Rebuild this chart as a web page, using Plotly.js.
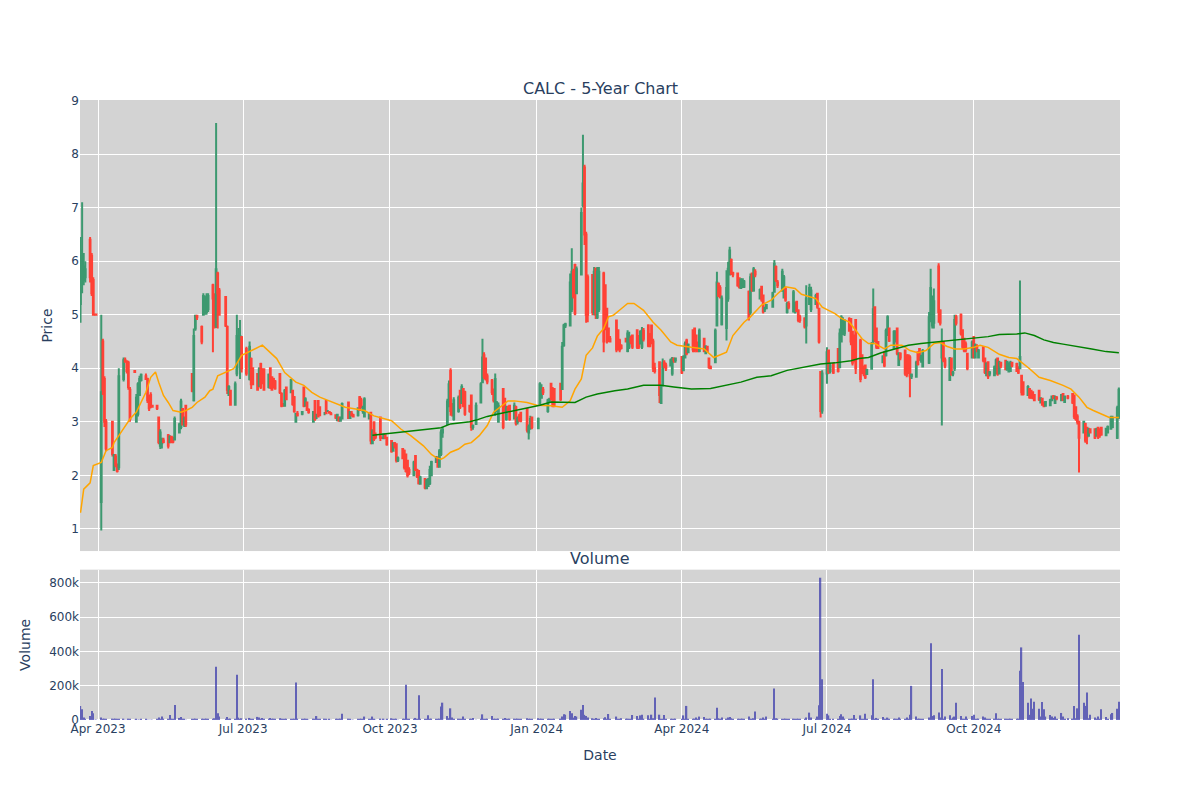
<!DOCTYPE html>
<html>
<head>
<meta charset="utf-8">
<script src="https://cdn.plot.ly/plotly-3.0.1.min.js"></script>
<style>html,body{margin:0;padding:0;background:#fff;}#chart{width:1200px;height:800px;}</style>
</head>
<body>
<div id="chart"></div>
<script>
// ---------- trading calendar ----------
const FIRST_DAY = '2023-03-21';
const LAST_DAY = '2024-12-31';
const MARKET_HOLIDAYS = ['2023-04-07','2023-05-29','2023-06-19','2023-07-04','2023-09-04','2023-11-23','2023-12-25',
  '2024-01-01','2024-01-15','2024-02-19','2024-03-29','2024-05-27','2024-06-19','2024-07-04','2024-09-02','2024-11-28','2024-12-25'];

// ---------- daily prices (one line per month) ----------
const openPrices = [
  5.2,5.6,5.65,5.7,6.4,6.1,5.65,5.0,5.0,
  1.5,4.5,3.8,3.0,3.0,2.1,2.35,2.2,2.15,3.8,4.15,4.12,4.1,3.6,3.95,3.0,3.15,3.5,3.78,
  3.85,3.8,3.45,3.5,3.3,3.3,3.08,2.55,2.6,2.65,2.75,2.62,2.72,2.7,2.67,2.8,2.9,3.24,2.95,3.3,3.89,3.4,
  4.74,4.98,4.77,5.0,5.05,5.05,5.1,5.55,5.36,4.8,5.77,5.45,5.33,4.77,3.5,3.58,3.32,3.9,4.2,4.0,4.58,
  4.36,3.8,4.17,4.0,3.89,3.68,4.08,3.95,3.98,3.65,4.0,3.83,3.8,3.75,3.89,3.52,3.32,3.3,3.64,3.55,
  3.58,3.46,3.0,3.15,3.15,3.64,3.3,3.36,3.22,3.0,3.39,3.1,3.39,3.27,3.15,3.39,3.2,3.18,3.15,3.12,3.03,3.08,3.02,
  3.06,3.36,3.07,3.15,3.12,3.12,3.46,3.4,3.2,3.1,3.06,3.17,2.6,2.99,2.75,3.08,2.7,2.69,2.75,2.7,
  2.64,2.46,2.6,2.58,2.28,2.49,2.46,2.39,2.27,2.1,2.0,2.36,2.1,2.08,1.84,1.93,1.76,1.8,1.85,2.0,2.25,2.33,
  2.16,2.4,2.8,2.96,3.3,3.95,3.3,3.05,3.2,3.58,3.35,3.61,3.55,3.3,3.49,2.9,2.96,3.36,3.74,4.24,4.18,
  3.85,3.77,3.6,3.15,3.2,3.0,3.61,3.43,3.05,3.25,3.3,3.06,3.27,3.0,3.1,3.17,3.24,2.8,2.9,3.08,
  2.88,3.33,3.45,3.6,3.2,3.4,3.71,3.6,3.61,3.71,3.61,4.43,4.8,4.8,5.1,5.8,5.93,5.4,5.75,7.05,7.75,
  6.5,5.7,5.74,5.05,5.86,4.95,5.1,5.77,5.55,5.11,4.74,4.55,4.89,4.71,4.52,4.42,4.55,4.32,4.4,4.55,
  4.61,4.71,4.6,4.46,4.4,4.7,4.8,4.64,4.8,4.5,4.0,4.11,3.35,3.68,4.1,4.05,4.05,3.9,4.18,4.15,
  4.21,3.96,4.2,4.52,4.3,4.71,4.74,4.61,4.45,4.32,4.55,4.28,4.4,4.18,4.02,4.11,4.8,5.58,5.5,4.82,4.75,5.3,
  5.75,6.02,5.78,5.77,5.68,5.5,5.52,5.52,5.43,5.05,5.77,5.45,5.8,5.3,5.52,5.36,5.1,5.12,5.15,5.43,5.89,5.6,
  5.45,5.32,5.49,5.05,5.2,5.06,5.05,5.24,5.08,4.95,4.93,4.8,5.2,5.1,5.2,5.39,5.11,3.93,3.21,
  3.9,4.33,3.95,4.08,4.36,4.02,4.5,4.7,4.65,4.92,4.92,4.68,4.61,4.9,4.52,4.24,4.0,4.05,3.89,3.99,4.5,5.14,
  4.74,4.49,4.11,4.3,4.24,4.62,4.74,4.38,4.5,4.74,4.06,4.27,4.33,4.24,4.24,4.2,3.85,3.84,4.3,4.36,4.15,4.03,
  4.1,4.9,4.8,4.85,5.9,5.08,4.2,4.49,4.15,3.78,4.18,3.9,4.0,4.95,5.0,4.71,4.55,4.45,4.27,4.2,
  4.58,4.2,4.4,4.2,4.39,4.18,3.87,4.11,3.9,3.87,3.9,4.18,3.9,4.1,4.14,3.97,3.94,3.95,4.1,4.08,4.02,4.0,3.86,
  3.74,3.5,3.61,3.58,3.55,3.5,3.58,3.36,3.43,3.35,3.3,3.31,3.4,3.47,3.35,3.45,3.4,3.52,3.37,3.47,
  3.52,3.49,3.27,3.1,3.0,2.8,2.96,2.89,2.74,2.86,2.86,2.74,2.89,2.85,2.89,2.75,2.8,2.87,2.9,2.7,3.1
];
const highPrices = [
  6.45,7.1,6.15,6.0,6.45,6.15,5.7,5.02,5.02,
  5.0,4.55,3.85,3.05,3.0,2.4,2.4,2.22,4.0,4.2,4.2,4.15,4.14,3.65,3.96,3.52,3.74,3.86,3.9,
  3.9,3.82,3.5,3.55,3.3,3.32,3.1,2.86,2.7,2.7,2.77,2.75,2.74,2.72,3.1,2.98,3.43,3.25,3.1,3.3,3.9,4.74,
  5.0,5.0,4.8,5.4,5.36,5.4,5.4,5.58,5.4,8.58,5.8,5.5,5.35,4.8,3.68,3.6,3.75,5.0,4.75,4.9,4.6,
  4.4,4.5,4.2,4.02,3.9,4.02,4.1,4.0,3.99,3.9,4.02,3.85,3.82,3.78,3.9,3.55,3.35,3.61,3.65,3.8,
  3.6,3.48,3.17,3.2,3.2,3.66,3.46,3.38,3.25,3.2,3.4,3.15,3.4,3.28,3.18,3.4,3.22,3.2,3.18,3.14,3.15,3.1,3.1,
  3.36,3.38,3.2,3.2,3.15,3.27,3.48,3.45,3.3,3.46,3.17,3.18,2.86,3.0,2.8,3.1,2.72,2.77,2.76,2.72,
  2.66,2.61,2.62,2.6,2.35,2.5,2.48,2.4,2.28,2.15,2.27,2.38,2.12,2.09,1.99,1.95,1.93,1.95,2.18,2.27,2.36,2.35,
  2.49,2.86,2.9,3.43,3.77,4.0,3.35,3.46,3.49,3.6,3.7,3.62,3.58,3.32,3.5,2.95,3.36,3.74,4.55,4.3,4.2,
  3.9,3.8,3.62,3.9,3.39,3.36,3.62,3.45,3.3,3.3,3.3,3.36,3.3,3.1,3.15,3.18,3.25,2.95,3.11,3.1,
  3.08,3.74,3.7,3.65,3.43,3.45,3.72,3.65,3.62,3.72,4.49,4.83,4.85,5.77,6.24,5.86,5.95,5.9,7.0,8.36,7.8,
  6.55,5.75,5.76,5.89,5.88,5.89,5.89,5.8,5.56,5.12,4.75,4.6,4.9,4.72,4.55,4.45,4.56,4.71,4.68,4.6,
  4.62,4.72,4.62,4.71,4.77,4.75,4.82,4.65,4.8,4.55,4.1,4.12,3.68,4.18,4.15,4.1,4.18,4.21,4.2,4.2,
  4.22,4.24,4.5,4.55,4.46,4.72,4.75,4.62,4.5,4.74,4.56,4.43,4.42,4.2,4.05,4.74,5.8,5.6,5.55,5.36,5.83,5.99,
  6.27,6.05,5.8,5.78,5.7,5.68,5.68,5.65,5.45,5.77,5.78,5.89,5.85,5.49,5.53,5.37,5.15,5.2,5.43,6.02,5.92,5.65,
  5.86,5.74,5.5,5.24,5.25,5.46,5.24,5.25,5.1,5.0,4.95,5.55,5.58,5.52,5.39,5.4,5.12,3.95,3.96,
  4.39,4.35,4.1,4.1,4.38,4.74,4.99,4.95,4.92,4.95,4.93,4.7,4.62,4.92,4.55,4.25,4.05,4.06,3.99,4.49,5.49,5.15,
  4.76,4.5,4.24,4.32,4.74,4.99,4.76,4.71,4.71,4.75,4.3,4.3,4.35,4.25,4.25,4.24,3.9,4.14,4.31,4.37,4.25,4.36,
  5.05,5.86,5.36,5.49,5.96,5.1,4.74,4.5,4.2,4.21,4.2,3.95,5.0,5.0,5.02,4.72,4.56,4.5,4.28,4.52,
  4.6,4.46,4.45,4.36,4.4,4.2,4.11,4.12,3.95,4.05,4.18,4.2,4.14,4.12,4.15,4.14,4.11,4.14,4.12,4.1,4.03,5.64,3.88,
  3.75,3.68,3.62,3.6,3.56,3.52,3.6,3.46,3.44,3.38,3.39,3.43,3.49,3.5,3.49,3.48,3.52,3.53,3.49,3.5,
  3.53,3.5,3.28,3.14,3.02,3.02,2.98,2.9,2.89,2.88,2.87,2.89,2.9,2.88,2.9,2.89,2.93,3.11,3.11,3.3,3.64
];
const lowPrices = [
  4.85,5.4,5.55,5.6,5.6,5.35,4.98,4.98,4.98,
  0.97,3.5,2.9,2.45,2.35,2.08,2.15,2.05,2.1,3.75,4.1,3.9,3.6,3.0,3.92,3.0,3.1,3.48,3.75,
  3.78,3.35,3.2,3.25,3.28,3.22,2.58,2.49,2.5,2.6,2.5,2.6,2.6,2.6,2.65,2.78,2.86,2.93,2.9,2.9,3.55,3.38,
  4.7,4.9,4.45,4.98,5.0,5.0,5.05,4.3,4.74,4.75,4.74,4.99,4.77,3.52,3.48,3.3,3.3,3.85,4.15,3.8,3.92,
  3.86,3.77,3.61,3.68,3.58,3.65,3.61,3.7,3.58,3.62,3.61,3.58,3.62,3.6,3.52,3.27,3.28,3.29,3.4,3.54,
  3.3,3.17,2.99,3.1,3.12,3.27,3.28,3.2,3.15,2.99,3.02,3.05,3.08,3.11,3.12,3.14,3.18,3.15,3.12,3.05,3.02,3.0,3.0,
  3.05,3.05,3.05,3.1,3.08,3.1,3.2,3.25,3.15,3.08,3.05,2.58,2.58,2.64,2.68,2.64,2.68,2.68,2.68,2.55,
  2.42,2.45,2.5,2.24,2.25,2.3,2.11,2.05,1.96,2.0,1.99,2.08,1.95,1.83,1.83,1.74,1.74,1.78,1.82,1.99,2.24,2.14,
  2.14,2.36,2.7,2.95,3.27,3.11,3.1,3.02,3.17,3.24,3.33,3.27,3.11,3.17,2.83,2.85,2.95,3.35,3.72,3.8,3.77,
  3.7,3.5,3.36,3.11,3.18,2.99,2.86,3.17,3.02,3.2,3.02,3.05,2.93,2.95,3.0,2.99,2.8,2.67,2.85,2.86,
  2.86,3.32,3.43,3.5,3.17,3.35,3.4,3.27,3.27,3.39,3.6,4.4,4.75,4.78,5.05,5.3,4.99,5.38,5.74,7.0,6.3,
  4.85,4.86,4.99,4.99,4.92,4.92,5.05,4.3,4.71,4.46,4.49,4.48,4.3,4.33,4.3,4.35,4.49,4.3,4.36,4.45,
  4.36,4.36,4.36,4.45,4.36,4.5,4.39,4.39,4.45,3.93,3.9,3.35,3.33,3.66,4.0,3.95,4.04,3.86,4.1,4.1,
  3.89,3.95,4.18,4.24,4.28,4.3,4.3,4.3,4.3,4.3,4.3,4.27,4.3,3.99,3.98,4.1,4.78,5.33,5.3,4.8,4.52,5.24,
  5.74,5.74,5.7,5.52,5.49,5.49,5.5,5.5,4.89,5.0,5.43,5.43,5.7,5.29,5.24,5.02,5.05,5.1,5.14,5.42,5.61,5.5,
  5.43,5.3,5.24,5.02,5.1,5.05,5.02,5.05,4.86,4.85,4.74,4.46,5.18,5.05,5.18,5.11,4.46,3.08,3.15,
  3.71,3.89,3.9,3.89,3.92,4.0,4.49,4.62,4.6,4.68,4.43,4.05,4.11,3.89,3.74,3.89,3.85,3.8,3.88,3.97,4.45,4.49,
  4.36,4.36,4.1,4.02,4.22,4.61,4.49,4.36,4.49,4.24,4.05,4.15,3.86,3.83,3.89,3.46,3.8,3.83,4.05,4.14,4.1,4.02,
  4.08,4.86,4.74,4.74,4.85,4.8,2.93,4.11,4.0,3.77,3.86,3.85,3.95,4.8,4.61,4.36,4.3,4.3,3.96,4.18,
  4.18,4.18,4.3,4.18,4.11,3.89,3.86,3.8,3.85,3.86,3.89,3.86,3.89,4.0,3.96,3.96,3.93,3.93,4.02,3.93,3.89,3.98,3.49,
  3.49,3.49,3.43,3.43,3.42,3.39,3.39,3.35,3.3,3.27,3.29,3.3,3.39,3.42,3.33,3.4,3.39,3.39,3.36,3.42,
  3.33,3.05,3.02,2.95,2.05,2.78,2.61,2.58,2.73,2.78,2.68,2.73,2.68,2.7,2.74,2.74,2.79,2.86,2.88,2.68,3.05
];
const closePrices = [
  6.2,6.1,5.9,5.85,5.7,5.4,5.0,5.0,5.0,
  3.55,3.6,3.0,2.5,2.4,2.38,2.2,2.08,3.85,4.15,4.12,3.95,3.65,3.05,3.93,3.45,3.7,3.8,3.88,
  3.8,3.4,3.25,3.3,3.28,3.25,2.62,2.8,2.65,2.62,2.55,2.72,2.62,2.63,3.05,2.95,3.38,2.95,3.05,2.95,3.58,4.6,
  4.98,4.95,4.5,5.35,5.3,5.3,5.35,5.3,4.8,5.85,5.4,5.0,4.8,3.6,3.65,3.32,3.7,4.6,4.6,4.6,4.0,
  3.9,4.4,3.7,3.7,3.6,3.98,3.65,3.75,3.6,3.88,3.65,3.6,3.65,3.62,3.55,3.3,3.3,3.58,3.42,3.78,
  3.33,3.2,3.15,3.12,3.18,3.3,3.42,3.22,3.18,3.18,3.05,3.1,3.1,3.12,3.15,3.16,3.2,3.17,3.14,3.08,3.13,3.02,3.05,
  3.33,3.07,3.18,3.12,3.1,3.25,3.22,3.27,3.25,3.42,3.15,2.65,2.82,2.68,2.72,2.7,2.7,2.76,2.7,2.58,
  2.45,2.6,2.55,2.28,2.32,2.32,2.15,2.08,2.0,2.05,2.24,2.1,1.98,1.85,1.96,1.77,1.9,1.92,2.1,2.25,2.34,2.16,
  2.45,2.8,2.85,3.38,3.7,3.2,3.15,3.4,3.45,3.28,3.65,3.3,3.15,3.2,2.9,2.92,3.3,3.7,4.2,3.85,3.8,
  3.75,3.55,3.4,3.8,3.35,3.3,2.9,3.2,3.25,3.22,3.05,3.3,2.97,3.05,3.05,3.02,2.85,2.9,3.05,2.9,
  3.05,3.7,3.6,3.55,3.4,3.42,3.45,3.3,3.32,3.42,4.4,4.8,4.82,5.6,5.8,5.35,5.02,5.85,6.9,7.45,6.5,
  5.0,5.0,5.05,5.8,5.0,5.8,5.8,4.5,4.75,4.5,4.52,4.5,4.35,4.38,4.35,4.38,4.5,4.65,4.6,4.5,
  4.4,4.4,4.4,4.68,4.7,4.55,4.42,4.42,4.5,4.0,3.95,3.5,3.65,4.1,4.05,4.0,4.15,4.18,4.15,4.18,
  3.92,4.2,4.45,4.28,4.44,4.35,4.35,4.35,4.35,4.7,4.32,4.4,4.32,4.02,4.0,4.7,5.6,5.36,5.33,5.3,5.5,5.86,
  6.2,5.78,5.75,5.55,5.52,5.65,5.66,5.62,4.95,5.7,5.46,5.85,5.75,5.46,5.28,5.06,5.12,5.18,5.4,5.95,5.65,5.55,
  5.8,5.7,5.28,5.2,5.15,5.42,5.2,5.07,4.9,4.9,4.78,5.3,5.5,5.45,5.35,5.15,4.5,3.2,3.9,
  4.3,3.93,4.05,3.92,3.95,4.65,4.95,4.9,4.88,4.7,4.5,4.1,4.15,4.0,3.8,3.92,3.9,3.83,3.97,4.45,5.1,4.55,
  4.4,4.38,4.22,4.05,4.7,4.95,4.52,4.68,4.68,4.28,4.27,4.2,3.9,3.88,3.93,3.85,3.88,4.1,4.08,4.17,4.2,4.32,
  4.95,5.5,5.3,5.25,5.05,4.85,4.45,4.15,4.05,4.18,3.9,3.92,4.9,4.85,4.65,4.4,4.33,4.35,4.0,4.48,
  4.22,4.43,4.35,4.33,4.15,3.93,4.08,3.85,3.92,4.02,4.15,3.9,4.1,4.05,3.98,4.12,4.08,4.1,4.05,3.95,3.92,4.21,3.55,
  3.52,3.65,3.46,3.45,3.45,3.4,3.42,3.44,3.32,3.29,3.37,3.4,3.47,3.45,3.46,3.44,3.5,3.41,3.47,3.45,
  3.36,3.1,3.05,3.0,2.7,3.0,2.65,2.72,2.86,2.8,2.7,2.86,2.72,2.75,2.76,2.87,2.9,3.08,3.05,3.25,3.6
];
// daily volume, thousands of shares
const volumeK = [
  82,62,14,5,23,53,39,2,2,
  14,6,5,4,8,5,3,3,8,4,2,2,3,3,1,3,2,2,3,
  3,2,2,2,1,3,14,5,20,3,4,29,3,3,88,12,18,4,3,2,4,5,
  8,3,4,6,8,5,4,8,10,310,39,20,6,18,5,4,6,263,14,8,10,
  6,12,5,4,18,14,6,12,4,5,12,4,3,4,10,5,3,4,3,5,
  4,5,218,6,3,4,3,3,2,4,3,23,8,3,3,8,2,3,2,3,3,4,3,
  37,4,3,2,2,3,4,3,3,20,4,6,20,3,2,4,2,3,2,3,
  10,4,3,5,2,4,6,205,5,8,4,12,6,144,4,5,3,27,8,5,4,3,
  5,78,101,23,10,68,14,6,5,4,5,20,4,3,4,12,2,5,33,6,4,
  4,23,5,8,4,3,6,12,3,4,5,3,4,3,4,3,10,4,3,5,
  10,8,5,4,6,4,5,4,3,5,20,33,31,53,40,14,23,20,59,88,30,
  23,15,10,8,12,6,8,10,16,8,35,5,20,6,5,10,6,8,5,6,
  29,23,6,27,31,5,27,6,31,10,131,31,8,6,29,5,5,6,8,4,
  6,27,8,82,5,6,5,14,5,20,18,6,5,4,5,8,72,10,6,14,8,14,
  18,10,6,5,4,6,8,5,20,8,6,10,49,5,4,14,6,20,8,183,10,6,
  6,5,4,5,4,6,5,4,4,5,6,14,43,14,8,20,86,829,238,
  37,27,6,5,8,23,33,20,6,8,5,6,29,5,27,6,5,37,4,27,238,8,
  12,5,18,6,8,14,5,6,5,8,14,5,6,14,5,30,199,20,6,8,5,6,
  14,447,23,27,43,14,297,8,20,27,6,14,20,101,23,6,5,20,6,23,
  31,8,6,5,20,14,5,6,4,6,39,8,5,6,5,4,6,5,4,6,8,287,423,
  222,101,30,125,66,107,66,20,105,62,20,29,20,12,20,8,41,20,8,10,
  8,82,10,68,496,101,82,160,10,31,14,6,20,8,62,18,5,33,41,66,107
];

// ---------- moving averages ----------
const ma50Dates = ['2023-03-21','2023-03-23','2023-03-27','2023-03-29','2023-04-03','2023-04-06','2023-04-10','2023-04-11','2023-04-14',
  '2023-04-19','2023-04-21','2023-04-25','2023-04-29','2023-05-01','2023-05-04','2023-05-07','2023-05-09','2023-05-12','2023-05-15',
  '2023-05-18','2023-05-23','2023-05-26','2023-05-30','2023-06-02','2023-06-07','2023-06-10','2023-06-12','2023-06-15','2023-06-25',
  '2023-06-30','2023-07-13','2023-07-22','2023-07-27','2023-08-03','2023-08-08','2023-08-13','2023-08-18','2023-08-24','2023-08-31',
  '2023-09-03','2023-09-15','2023-09-21','2023-10-02','2023-10-08','2023-10-14','2023-10-22','2023-10-27','2023-10-30','2023-11-02',
  '2023-11-04','2023-11-08','2023-11-13','2023-11-17','2023-11-21','2023-11-26','2023-12-01','2023-12-05','2023-12-14','2023-12-18',
  '2023-12-26','2024-01-01','2024-01-10','2024-01-17','2024-01-22','2024-01-25','2024-01-29','2024-02-01','2024-02-05','2024-02-08',
  '2024-02-12','2024-02-15','2024-02-18','2024-02-23','2024-02-27','2024-03-02','2024-03-08','2024-03-14','2024-03-19','2024-03-25',
  '2024-03-29','2024-04-07','2024-04-15','2024-04-21','2024-04-25','2024-04-29','2024-05-03','2024-05-10','2024-05-14','2024-05-21',
  '2024-05-27','2024-05-31','2024-06-05','2024-06-11','2024-06-15','2024-06-21','2024-06-24','2024-06-28','2024-07-06','2024-07-10',
  '2024-07-15','2024-07-19','2024-07-23','2024-07-27','2024-07-31','2024-08-06','2024-08-10','2024-08-17','2024-08-22','2024-08-27',
  '2024-09-01','2024-09-06','2024-09-10','2024-09-14','2024-09-19','2024-09-25','2024-10-01','2024-10-05','2024-10-10','2024-10-17',
  '2024-10-23','2024-10-28','2024-10-31','2024-11-05','2024-11-11','2024-11-18','2024-11-26','2024-12-01','2024-12-06','2024-12-11',
  '2024-12-15','2024-12-21','2024-12-25','2024-12-31'];
const ma50Values = [1.3,1.74,1.86,2.18,2.24,2.46,2.52,2.61,2.74,
  2.96,3.05,3.18,3.43,3.55,3.83,3.93,3.74,3.49,3.36,
  3.21,3.18,3.21,3.27,3.36,3.46,3.58,3.61,3.86,3.99,
  4.24,4.43,4.18,3.92,3.74,3.68,3.55,3.46,3.39,3.32,
  3.27,3.21,3.11,3.02,2.86,2.74,2.55,2.39,2.33,2.3,
  2.33,2.43,2.49,2.58,2.61,2.74,2.93,3.18,3.39,3.39,
  3.36,3.31,3.3,3.27,3.39,3.61,3.8,4.24,4.38,4.6,
  4.74,4.96,4.99,5.11,5.21,5.21,5.08,4.86,4.71,4.49,
  4.43,4.39,4.36,4.2,4.25,4.3,4.61,4.86,4.96,5.18,
  5.27,5.39,5.52,5.49,5.38,5.33,5.3,5.14,5.02,4.93,
  4.86,4.71,4.55,4.46,4.46,4.36,4.43,4.43,4.33,4.29,
  4.33,4.46,4.48,4.41,4.36,4.36,4.39,4.43,4.39,4.26,
  4.2,4.18,4.11,3.99,3.83,3.77,3.68,3.61,3.46,3.27,
  3.21,3.14,3.08,3.08];
const ma200Dates = ['2023-09-20','2023-10-14','2023-11-02','2023-11-08','2023-11-20','2023-11-25','2023-12-01','2023-12-07','2023-12-18',
  '2023-12-28','2024-01-03','2024-01-10','2024-01-18','2024-01-25','2024-02-01','2024-02-08','2024-02-19','2024-02-27','2024-03-08',
  '2024-03-19','2024-03-27','2024-04-07','2024-04-19','2024-05-01','2024-05-08','2024-05-18','2024-05-27','2024-06-06','2024-06-19',
  '2024-06-27','2024-07-06','2024-07-16','2024-07-21','2024-07-27','2024-08-04','2024-08-14','2024-08-21','2024-08-29','2024-09-08',
  '2024-09-19','2024-09-29','2024-10-10','2024-10-17','2024-10-28','2024-11-02','2024-11-08','2024-11-14','2024-11-20','2024-11-26',
  '2024-12-05','2024-12-14','2024-12-23','2024-12-31'];
const ma200Values = [2.75,2.83,2.89,2.96,3.0,3.04,3.1,3.14,3.21,
  3.27,3.31,3.37,3.36,3.36,3.46,3.52,3.58,3.61,3.68,
  3.68,3.65,3.61,3.62,3.69,3.74,3.83,3.86,3.96,4.04,
  4.08,4.1,4.14,4.18,4.2,4.29,4.38,4.43,4.46,4.49,
  4.52,4.56,4.59,4.63,4.64,4.66,4.61,4.53,4.48,4.45,
  4.41,4.36,4.31,4.29];

// ---------- labels ----------
const chartTitle = 'CALC - 5-Year Chart';
const volumeTitle = 'Volume';
const priceAxisTitle = 'Price';
const volumeAxisTitle = 'Volume';
const dateAxisTitle = 'Date';

function tradingDays(first, last, holidays) {
  const out = [];
  const d = new Date(first + 'T00:00:00Z');
  const end = new Date(last + 'T00:00:00Z');
  while (d <= end) {
    const s = d.toISOString().slice(0, 10);
    const w = d.getUTCDay();
    if (w !== 0 && w !== 6 && !holidays.includes(s)) out.push(s);
    d.setUTCDate(d.getUTCDate() + 1);
  }
  return out;
}
const dates = tradingDays(FIRST_DAY, LAST_DAY, MARKET_HOLIDAYS);
const lens = [dates.length, openPrices.length, highPrices.length, lowPrices.length, closePrices.length, volumeK.length];
if (new Set(lens).size !== 1) throw new Error('length mismatch ' + lens.join(','));
if (ma50Dates.length !== ma50Values.length || ma200Dates.length !== ma200Values.length)
  throw new Error('MA mismatch ' + [ma50Dates.length, ma50Values.length, ma200Dates.length, ma200Values.length].join(','));
const volume = volumeK.map(v => v * 1000);

const traces = [
  { type: 'candlestick', x: dates, open: openPrices, high: highPrices, low: lowPrices, close: closePrices,
    xaxis: 'x', yaxis: 'y', name: 'CALC',
    increasing: { line: { color: '#3D9970' } }, decreasing: { line: { color: '#FF4136' } } },
  { type: 'scatter', mode: 'lines', x: ma50Dates, y: ma50Values, xaxis: 'x', yaxis: 'y', name: 'MA50',
    line: { color: 'orange', width: 1.5 } },
  { type: 'scatter', mode: 'lines', x: ma200Dates, y: ma200Values, xaxis: 'x', yaxis: 'y', name: 'MA200',
    line: { color: 'green', width: 1.5 } },
  { type: 'bar', x: dates, y: volume, xaxis: 'x2', yaxis: 'y2', name: 'Volume',
    marker: { color: '#3333aa', line: { width: 0 } }, opacity: 0.7 }
];

const gridAxis = { gridcolor: 'white', zerolinecolor: 'white', zerolinewidth: 2, linecolor: 'white', showline: false,
  ticks: '', automargin: true, title: { standoff: 15 } };
const xRange = ['2023-03-20 16:00', '2024-12-31 17:00'];
const layout = {
  width: 1200, height: 800,
  margin: { l: 80, r: 80, t: 100, b: 80 },
  paper_bgcolor: 'white', plot_bgcolor: 'lightgray',
  font: { family: '"DejaVu Sans", Verdana, sans-serif', size: 12, color: '#2a3f5f' },
  showlegend: false,
  xaxis: Object.assign({}, gridAxis, { domain: [0, 1], anchor: 'y', type: 'date', range: xRange, matches: 'x2',
    showticklabels: false, rangeslider: { visible: false }, dtick: 'M3', tick0: '2023-01-01' }),
  yaxis: Object.assign({}, gridAxis, { domain: [0.2725, 1], anchor: 'x', range: [0.585, 9.01], dtick: 1,
    title: { text: priceAxisTitle, standoff: 15 } }),
  xaxis2: Object.assign({}, gridAxis, { domain: [0, 1], anchor: 'y2', type: 'date', range: xRange,
    dtick: 'M3', tick0: '2023-01-01', tickformat: '%b %Y', title: { text: dateAxisTitle, standoff: 15 } }),
  yaxis2: Object.assign({}, gridAxis, { domain: [0, 0.2425], anchor: 'x2', range: [0, 876000], dtick: 200000,
    title: { text: volumeAxisTitle, standoff: 15 } }),
  bargap: 0.2,
  annotations: [
    { text: chartTitle, x: 0.5, xref: 'paper', xanchor: 'center', y: 1, yref: 'paper', yanchor: 'bottom',
      showarrow: false, font: { size: 16 } },
    { text: volumeTitle, x: 0.5, xref: 'paper', xanchor: 'center', y: 0.2425, yref: 'paper', yanchor: 'bottom',
      showarrow: false, font: { size: 16 } }
  ]
};
Plotly.newPlot('chart', traces, layout, { displayModeBar: false, responsive: false });
</script>
</body>
</html>
